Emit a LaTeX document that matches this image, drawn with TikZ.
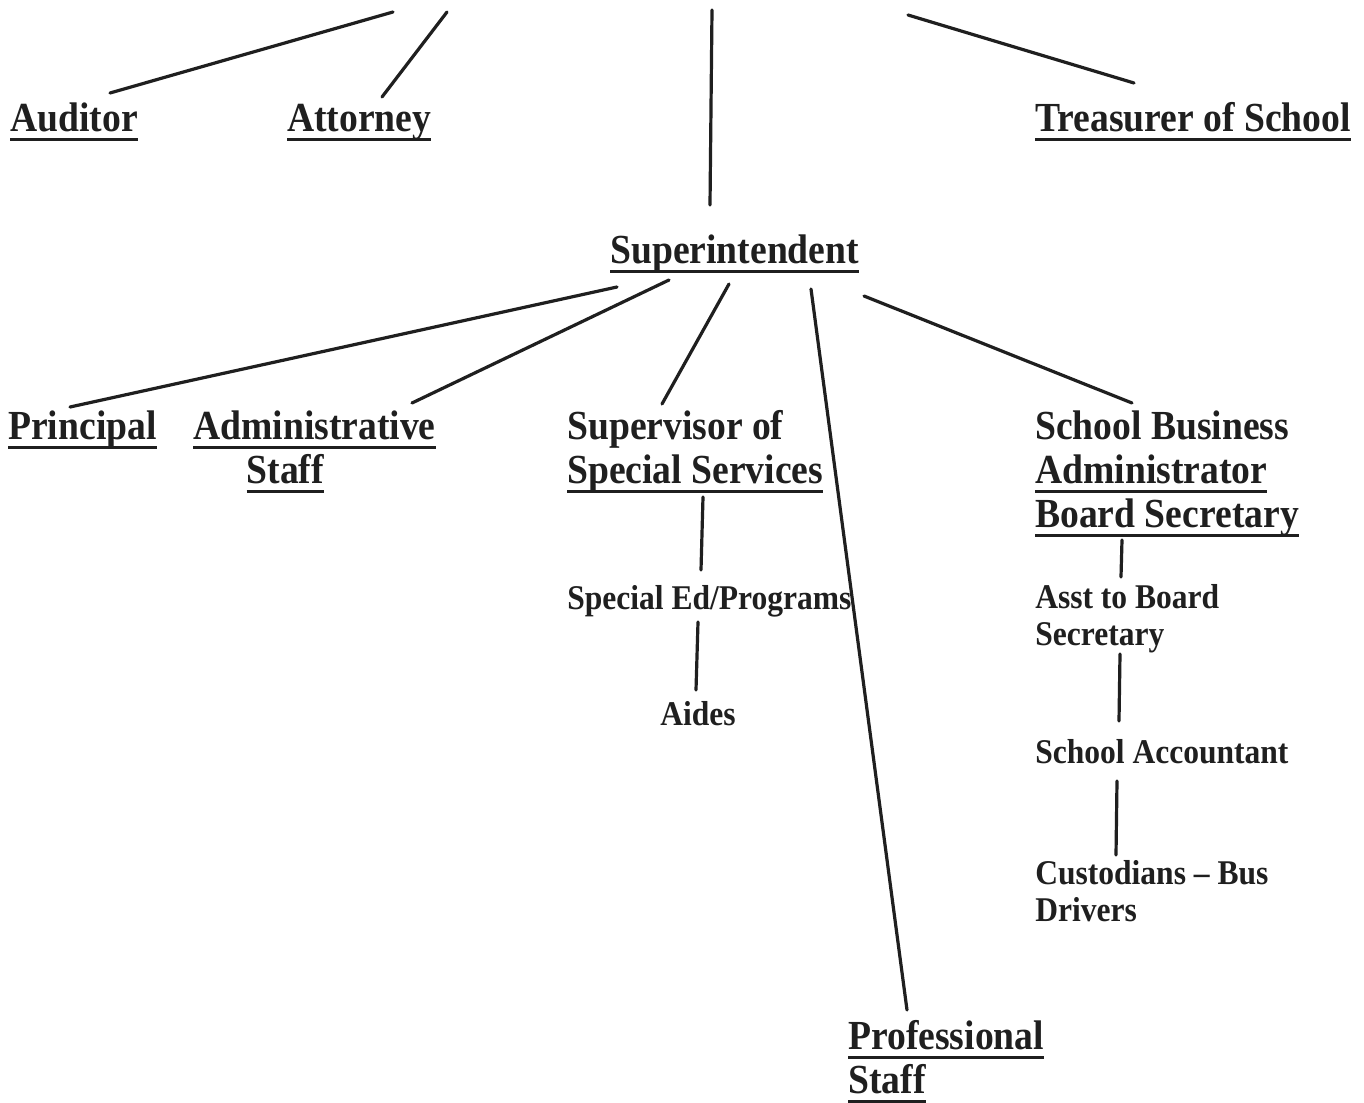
\documentclass[tikz,border=0pt]{standalone}
\usepackage{fontspec}
\setmainfont{Liberation Serif}[FakeStretch=0.91]
\newcommand\ulx[1]{\setbox0\hbox{#1}\rlap{\rule[-7.5pt]{\wd0}{2.5pt}}\box0}
\tikzset{
  big/.style={anchor=base west, inner sep=0pt, align=left, text=black!88,
    font=\bfseries\fontsize{31}{33}\selectfont},
  small/.style={anchor=base west, inner sep=0pt, align=left, text=black!88,
    font=\bfseries\fontsize{26}{27.5}\selectfont},
  link/.style={line width=2.4pt, draw=black!88, line cap=round},
}
\begin{document}
\begin{tikzpicture}[x=0.75pt, y=-0.75pt]
\path[use as bounding box, fill=white] (0,0) rectangle (1364,1103);
% nodes (multi-line nodes are placed by the baseline of their last line)
\node[big] (auditor) at (10,131) {\ulx{Auditor}};
\node[big] (attorney) at (287,131) {\ulx{Attorney}};
\node[big] (treasurer) at (1035,131) {\ulx{Treasurer of School}};
\node[big] (super) at (610,263) {\ulx{Superintendent}};
\node[big] (principal) at (8,439) {\ulx{Principal}};
\node[big] (admin) at (193,483) {\ulx{Administrative}\\\hspace*{40pt}\ulx{Staff}};
\node[big] (supervisor) at (567,483) {Supervisor of\\\ulx{Special Services}};
\node[big] (sba) at (1035,527) {School Business\\\ulx{Administrator}\\\ulx{Board Secretary}};
\node[small] (sped) at (567,609) {Special Ed/Programs};
\node[small] (aides) at (660,725) {Aides};
\node[small] (asst) at (1035,645) {Asst to Board\\Secretary};
\node[small] (acct) at (1035,763) {School Accountant};
\node[small] (cust) at (1035,921) {Custodians -- Bus\\Drivers};
\node[big] (prof) at (848,1093) {\ulx{Professional}\\\ulx{Staff}};
% connector ends
\coordinate (topA) at (393,12);
\coordinate (topB) at (447,12);
\coordinate (topC) at (712,10);
\coordinate (topD) at (908,15);
\coordinate (audE) at (110,93);
\coordinate (attE) at (382,97);
\coordinate (supT) at (710,205);
\coordinate (treE) at (1134,83);
\coordinate (sP) at (617,287);
\coordinate (sA) at (669,280);
\coordinate (sS) at (729,284);
\coordinate (sPr) at (811,289);
\coordinate (sB) at (864,296);
\coordinate (prE) at (70,407);
\coordinate (adE) at (412,403);
\coordinate (svE) at (662,404);
\coordinate (pfE) at (907,1010);
\coordinate (sbE) at (1132,403);
\coordinate (ss1) at (703,497);
\coordinate (ss2) at (701,570);
\coordinate (se1) at (698,622);
\coordinate (se2) at (696,690);
\coordinate (bs1) at (1122,540);
\coordinate (bs2) at (1121,577);
\coordinate (as1) at (1120,654);
\coordinate (as2) at (1119,721);
\coordinate (ac1) at (1117,781);
\coordinate (ac2) at (1116,855);
% connectors
\draw[link] (topA) -- (audE);
\draw[link] (topB) -- (attE);
\draw[link] (topC) -- (supT);
\draw[link] (topD) -- (treE);
\draw[link] (sP) -- (prE);
\draw[link] (sA) -- (adE);
\draw[link] (sS) -- (svE);
\draw[link] (sPr) -- (pfE);
\draw[link] (sB) -- (sbE);
\draw[link] (ss1) -- (ss2);
\draw[link] (se1) -- (se2);
\draw[link] (bs1) -- (bs2);
\draw[link] (as1) -- (as2);
\draw[link] (ac1) -- (ac2);
\end{tikzpicture}
\end{document}
